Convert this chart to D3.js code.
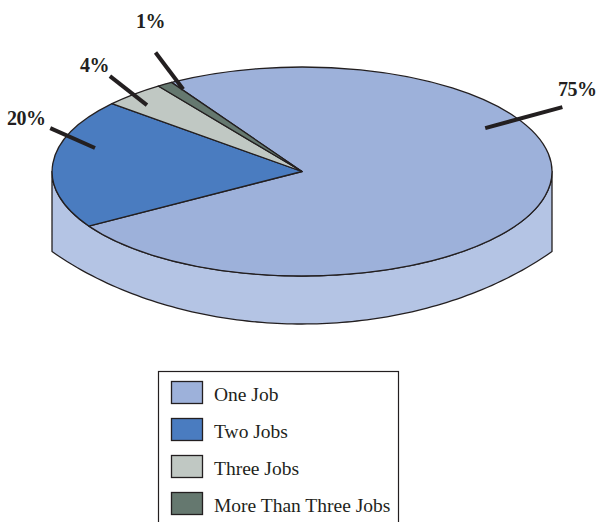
<!DOCTYPE html>
<html>
<head>
<meta charset="utf-8">
<script src="https://cdn.jsdelivr.net/npm/d3@7/dist/d3.min.js"></script>
<style>
  html, body { margin: 0; padding: 0; background: #ffffff; }
  svg { display: block; }
</style>
</head>
<body>
<script>
// ---- data ----
const categories = ["One Job", "Two Jobs", "Three Jobs", "More Than Three Jobs"];
const values = [75, 20, 4, 1];
const valueLabels = ["75%", "20%", "4%", "1%"];

// ---- style / layout ----
const W = 596, H = 522;
const colors = ["#9db1da", "#4a7cc0", "#c0c8c3", "#65786f"];
const sideColor = "#b4c4e4";
const ink = "#231f20";

const cx = 302, cy = 171.5, rx = 250, ry = 104.5;   // top ellipse
const edgeDepth = 80;                                 // depth at left/right edges
const bottomY = 324;                                  // lowest point of side
const startDeg = -31.5;

// leader layout: angle offset from slice middle (deg), radius fraction, direction (deg), length,
// label offset from outer end
const leaders = [
  {off: -43, r: 0.842, dir: -15.3, len: 80, ldx: 15, ldy: -18},
  {off: 10.7, r: 0.858, dir: 204, len: 49, ldx: -24, ldy: -10},
  {off: -2, r: 0.888, dir: 218, len: 47, ldx: -15.5, ldy: -11.5},
  {off: 2.2, r: 0.92, dir: 233, len: 46, ldx: -5, ldy: -31.5}
];

const svg = d3.select("body").append("svg")
  .attr("width", W).attr("height", H)
  .attr("viewBox", `0 0 ${W} ${H}`);

svg.append("rect").attr("width", W).attr("height", H).attr("fill", "#fff");

const rad = d => d * Math.PI / 180;

// ---- side of the cylinder ----
const sidePts = [];
for (let i = 0; i <= 180; i++) {
  const t = rad(180 - i);
  sidePts.push([cx + rx * Math.cos(t), cy + ry * Math.sin(t)]);
}
const R = 350;
const k = (bottomY - (cy + edgeDepth)) / (1 - Math.sqrt(1 - (rx / R) ** 2));
for (let i = 0; i <= 100; i++) {
  const dx = rx - (2 * rx) * i / 100;
  const y = bottomY - k * (1 - Math.sqrt(1 - (dx / R) ** 2));
  sidePts.push([cx + dx, y]);
}
svg.append("path")
  .attr("d", d3.line()(sidePts) + "Z")
  .attr("fill", sideColor)
  .attr("stroke", ink)
  .attr("stroke-width", 1.3)
  .attr("stroke-linejoin", "round");

// ---- top slices ----
const pie = d3.pie().sort(null)
  .startAngle(rad(startDeg)).endAngle(rad(startDeg + 360));
const arcs = pie(values);
const arcGen = d3.arc().innerRadius(0).outerRadius(1);

const topFace = svg.append("g")
  .attr("transform", `translate(${cx},${cy}) scale(${rx},${ry})`);
topFace.selectAll("path").data(arcs).join("path")
  .attr("d", arcGen)
  .attr("fill", (d, i) => colors[i])
  .attr("stroke", ink)
  .attr("stroke-width", 1.3)
  .attr("stroke-linejoin", "round")
  .attr("vector-effect", "non-scaling-stroke");

// ---- leader lines and labels ----
arcs.forEach((d, i) => {
  const L = leaders[i];
  const midA = (d.startAngle + d.endAngle) / 2 - Math.PI / 2 + rad(L.off);
  const x0 = cx + L.r * rx * Math.cos(midA);
  const y0 = cy + L.r * ry * Math.sin(midA);
  const x1 = x0 + L.len * Math.cos(rad(L.dir));
  const y1 = y0 + L.len * Math.sin(rad(L.dir));
  svg.append("line")
    .attr("x1", x0).attr("y1", y0).attr("x2", x1).attr("y2", y1)
    .attr("stroke", ink).attr("stroke-width", 4);
  svg.append("text")
    .attr("x", x1 + L.ldx).attr("y", y1 + L.ldy)
    .attr("text-anchor", "middle")
    .attr("dominant-baseline", "central")
    .attr("font-family", "'Liberation Serif', 'DejaVu Serif', serif")
    .attr("font-weight", "bold")
    .attr("font-size", 20)
    .attr("letter-spacing", -0.5)
    .attr("fill", ink)
    .text(valueLabels[i]);
});

// ---- legend ----
const lg = svg.append("g");
lg.append("rect")
  .attr("x", 158.5).attr("y", 371.5).attr("width", 240).attr("height", 170)
  .attr("fill", "#fff").attr("stroke", ink).attr("stroke-width", 1.2);
const items = lg.selectAll("g.item").data(categories).join("g")
  .attr("class", "item")
  .attr("transform", (d, i) => `translate(171.5, ${381.5 + i * 37})`);
items.append("rect")
  .attr("width", 31).attr("height", 22)
  .attr("fill", (d, i) => colors[i])
  .attr("stroke", ink).attr("stroke-width", 1.3);
items.append("text")
  .attr("x", 42.5).attr("y", 19)
  .attr("font-family", "'Liberation Serif', 'DejaVu Serif', serif")
  .attr("font-size", 19.5)
  .attr("fill", ink)
  .text(d => d);
</script>
</body>
</html>
